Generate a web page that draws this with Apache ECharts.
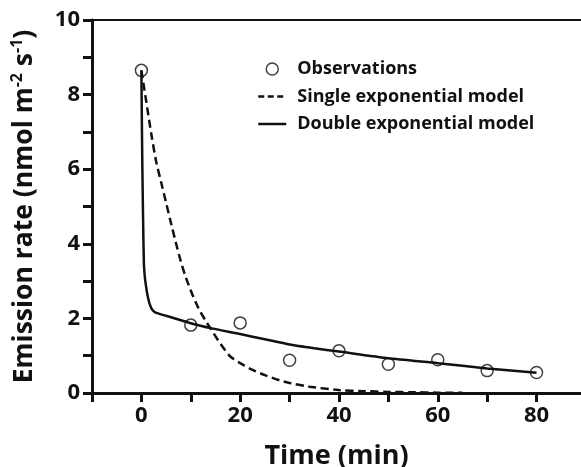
<!DOCTYPE html>
<html>
<head>
<meta charset="utf-8">
<script src="https://cdn.jsdelivr.net/npm/echarts@6/dist/echarts.min.js"></script>
<style>
html,body{margin:0;padding:0;background:#fff;}
#chart{width:581px;height:467px;}
</style>
</head>
<body>
<div id="chart"></div>
<script>
// Observations
const obsTime = [0, 10, 20, 30, 40, 50, 60, 70, 80];
const obsRate = [8.65, 1.82, 1.88, 0.88, 1.13, 0.77, 0.89, 0.60, 0.55];

// Single exponential model
const singleTime = [0, 1, 2, 3, 4, 5, 6, 7, 8, 9, 10, 11, 12, 13, 14, 15, 16, 17, 18, 20, 22.5, 25, 28, 30, 34, 40, 45, 50, 55, 60, 65];
const singleRate = [8.65, 7.8, 6.95, 6.2, 5.65, 5.1, 4.55, 4.02, 3.52, 3.1, 2.75, 2.43, 2.16, 1.94, 1.73, 1.52, 1.32, 1.14, 0.98, 0.8, 0.62, 0.48, 0.34, 0.27, 0.17, 0.08, 0.05, 0.03, 0.02, 0.01, 0.005];

// Double exponential model
const doubleTime = [0, 0.1, 0.2, 0.35, 0.5, 0.7, 0.9, 1.2, 1.6, 2.0, 2.4, 3, 5, 8, 10, 14, 20, 25, 30, 35, 40, 50, 60, 70, 80];
const doubleRate = [8.65, 7.2, 6.0, 4.6, 3.5, 3.1, 2.9, 2.65, 2.42, 2.28, 2.2, 2.15, 2.07, 1.95, 1.87, 1.74, 1.58, 1.44, 1.3, 1.2, 1.11, 0.93, 0.8, 0.66, 0.54];

const xTickLabels = ['0', '20', '40', '60', '80'];
const yTickLabels = ['0', '2', '4', '6', '8', '10'];

const seriesNames = ['Observations', 'Single exponential model', 'Double exponential model'];

const zip = (a, b) => a.map((v, i) => [v, b[i]]);
const FONT = 'Open Sans';
const INK = '#111';

const chart = echarts.init(document.getElementById('chart'), null, {renderer: 'canvas'});
chart.setOption({
  animation: false,
  backgroundColor: '#fff',
  grid: {left: 92, right: 0, top: 20, bottom: 74, containLabel: false, outerBoundsMode: 'none'},
  legend: {
    orient: 'vertical',
    left: 257,
    top: 60,
    padding: 0,
    itemWidth: 28,
    itemHeight: 12,
    itemGap: 9.5,
    data: [
      {name: seriesNames[0], icon: 'circle', itemStyle: {color: 'rgba(0,0,0,0)', borderColor: INK, borderWidth: 1.5}},
      {name: seriesNames[1], itemStyle: {opacity: 0}, lineStyle: {color: INK, width: 2.5, type: [6, 3.5]}},
      {name: seriesNames[2], itemStyle: {opacity: 0}, lineStyle: {color: INK, width: 2.5, type: 'solid'}}
    ],
    textStyle: {fontFamily: FONT, fontWeight: 'bold', fontSize: 18, color: INK, padding: [0, 0, 0, 6]}
  },
  xAxis: [{
    type: 'value',
    min: -10,
    max: 89,
    interval: 10,
    position: 'bottom',
    name: 'Time (min)',
    nameLocation: 'middle',
    nameGap: 50,
    nameTextStyle: {fontFamily: FONT, fontWeight: 'bold', fontSize: 27, color: INK},
    axisLine: {show: true, onZero: false, lineStyle: {color: INK, width: 3}},
    axisTick: {show: true, inside: false, length: 9, lineStyle: {color: INK, width: 3}},
    axisLabel: {
      margin: 12,
      fontFamily: FONT, fontWeight: 'bold', fontSize: 22, color: INK,
      showMinLabel: true, showMaxLabel: false,
      formatter: v => xTickLabels.includes(String(v)) ? String(v) : ''
    },
    splitLine: {show: false}
  }, {
    type: 'value',
    min: -10,
    max: 89,
    position: 'top',
    axisLine: {show: true, onZero: false, lineStyle: {color: INK, width: 2}},
    axisTick: {show: false},
    axisLabel: {show: false},
    splitLine: {show: false}
  }],
  yAxis: {
    type: 'value',
    min: 0,
    max: 10,
    interval: 1,
    name: '{a|Emission rate (nmol m}{s|-2}{a| s}{s|-1}{a|)}',
    nameLocation: 'middle',
    nameRotate: 90,
    nameGap: 53,
    nameTextStyle: {
      rich: {
        a: {fontFamily: FONT, fontWeight: 'bold', fontSize: 26.5, color: INK, lineHeight: 30},
        s: {fontFamily: FONT, fontWeight: 'bold', fontSize: 16, color: INK, verticalAlign: 'top', lineHeight: 30}
      }
    },
    axisLine: {show: true, onZero: false, lineStyle: {color: INK, width: 3}},
    axisTick: {show: true, inside: false, length: 9, lineStyle: {color: INK, width: 3}},
    axisLabel: {
      margin: 12,
      fontFamily: FONT, fontWeight: 'bold', fontSize: 22, color: INK,
      formatter: v => yTickLabels.includes(String(v)) ? String(v) : ''
    },
    splitLine: {show: false}
  },
  series: [{
    name: seriesNames[0],
    type: 'scatter',
    data: zip(obsTime, obsRate),
    symbol: 'circle',
    symbolSize: 12,
    itemStyle: {color: 'rgba(0,0,0,0)', borderColor: INK, borderWidth: 1.5},
    z: 3
  }, {
    name: seriesNames[1],
    type: 'line',
    data: zip(singleTime, singleRate),
    symbol: 'none',
    smooth: 0.3,
    lineStyle: {color: INK, width: 2.5, type: [8, 4.5]},
    itemStyle: {color: INK},
    z: 2
  }, {
    name: seriesNames[2],
    type: 'line',
    data: zip(doubleTime, doubleRate),
    symbol: 'none',
    smooth: 0.2,
    lineStyle: {color: INK, width: 2.5},
    itemStyle: {color: INK},
    z: 2
  }]
});
</script>
</body>
</html>
